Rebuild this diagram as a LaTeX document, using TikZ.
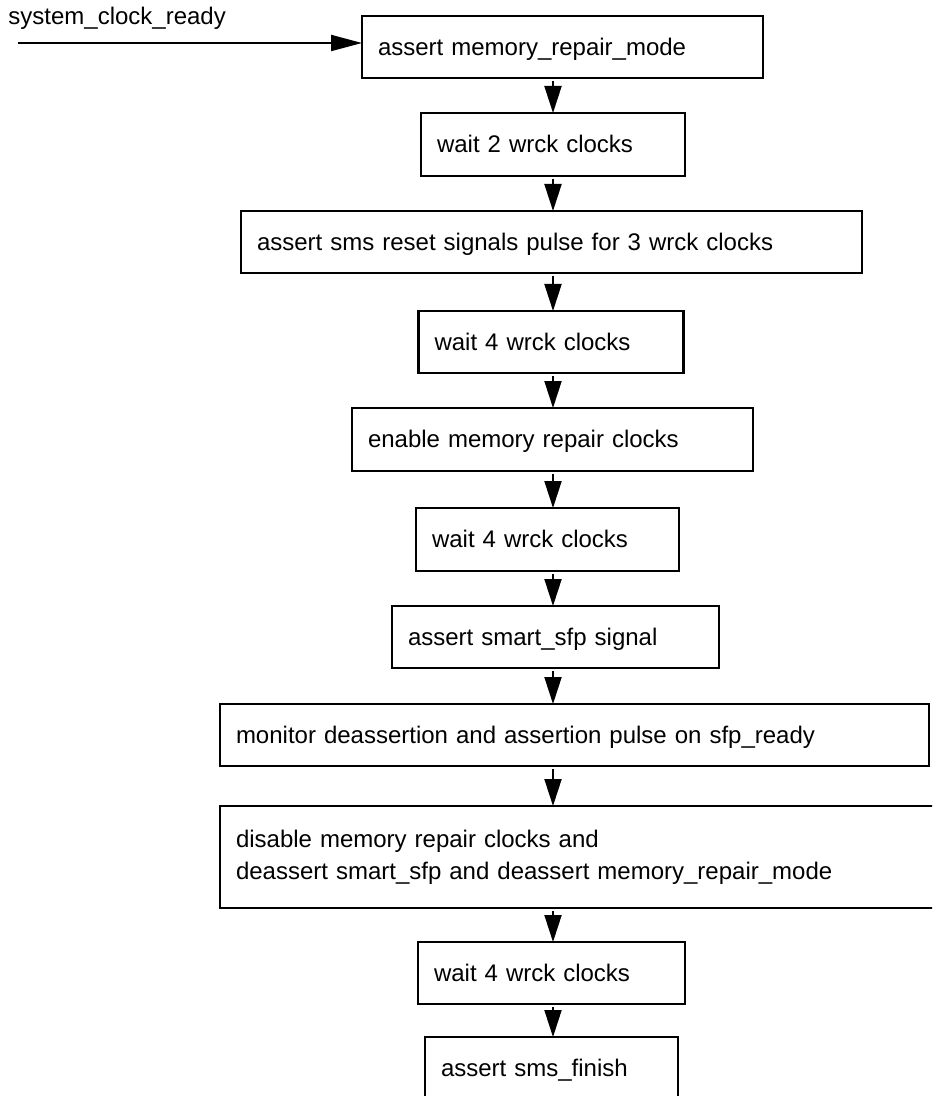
\documentclass[tikz,border=0pt]{standalone}
\usepackage{fontspec}
\setmainfont{Liberation Sans}
\usetikzlibrary{arrows.meta}

\begin{document}
\begin{tikzpicture}[x=0.5pt,y=-0.5pt,
    stepbox/.style={draw,line width=1.1pt,anchor=north west,inner xsep=8pt,inner ysep=0pt,
      outer sep=0pt,align=left,font=\fontsize{12}{16}\selectfont,text height=9pt,text depth=0.6pt},
    flow/.style={line width=1pt,shorten <=1.5pt,-{Triangle[length=13.5pt,width=8.5pt]}}]
  \useasboundingbox (0,0) rectangle (932,1096);
  \clip (0,0) rectangle (932,1096);

  % input signal
  \node[anchor=base west,inner sep=0pt,font=\fontsize{12}{16}\selectfont] (lbl) at (8,25) {system\_clock\_ready};
  \coordinate (src) at (18,43);

  % sequence of steps
  \node[stepbox,text width=184.5pt,minimum height=31pt] (b1) at (362,15.7) {assert memory\_repair\_mode};
  \node[stepbox,text width=116pt,minimum height=31.5pt] (b2) at (421,113) {wait 2 wrck clocks};
  \node[stepbox,text width=294.5pt,minimum height=31pt] (b3) at (241,211) {assert sms reset signals pulse for 3 wrck clocks};
  \node[stepbox,text width=116.5pt,minimum height=31pt] (b4) at (418.5,311) {wait 4 wrck clocks};
  \node[stepbox,text width=184.5pt,minimum height=31.5pt] (b5) at (352,408) {enable memory repair clocks};
  \node[stepbox,text width=115.5pt,minimum height=31.5pt] (b6) at (416,508) {wait 4 wrck clocks};
  \node[stepbox,text width=147.5pt,minimum height=31pt] (b7) at (392,606) {assert smart\_sfp signal};
  \node[stepbox,text width=338.5pt,minimum height=31pt] (b8) at (220,704) {monitor deassertion and assertion pulse on sfp\_ready};
  \node[stepbox,text width=349pt,minimum height=51pt,text depth=18.6pt] (b9) at (220,806)
    {disable memory repair clocks and\\deassert smart\_sfp and deassert memory\_repair\_mode};
  \node[stepbox,text width=117.5pt,minimum height=31pt] (b10) at (418,942) {wait 4 wrck clocks};
  \node[stepbox,text width=110.5pt,minimum height=31pt] (b11) at (425,1037) {assert sms\_finish};

  % arrows
  \draw[flow,shorten <=0pt,-{Triangle[length=15.5pt,width=8pt]}] (src) -- (src -| b1.west);
  \coordinate (ax) at (553,0);
  \foreach \a/\b in {b1/b2,b2/b3,b3/b4,b4/b5,b5/b6,b6/b7,b7/b8,b8/b9,b9/b10,b10/b11}
    \draw[flow] (\a.south -| ax) -- (\b.north -| ax);
\end{tikzpicture}
\end{document}
